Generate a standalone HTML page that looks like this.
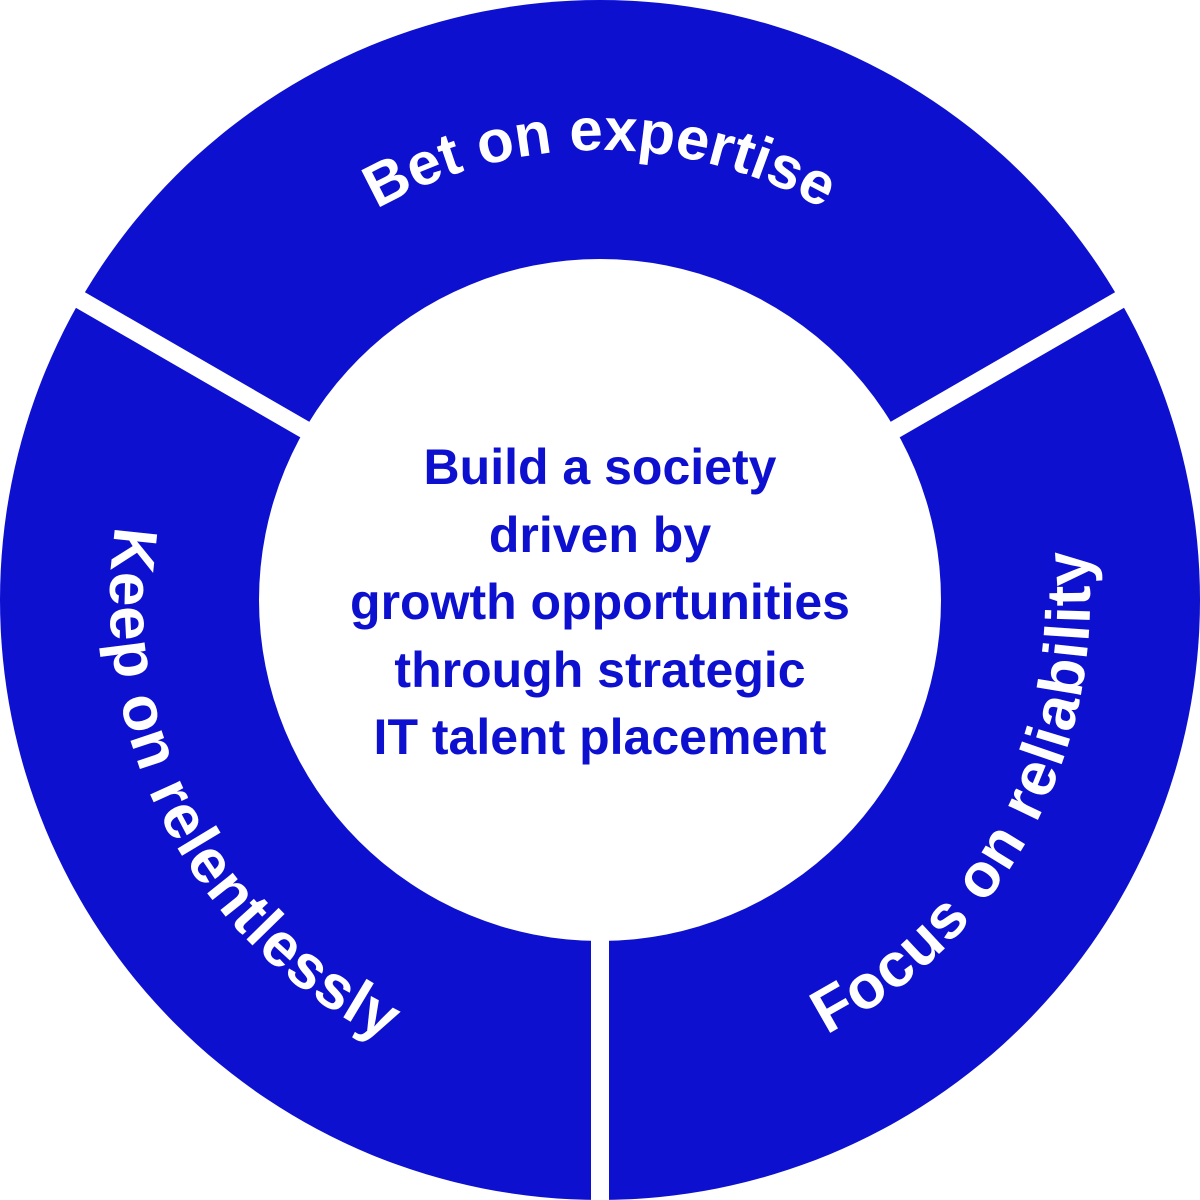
<!DOCTYPE html>
<html><head><meta charset="utf-8"><style>
html,body{margin:0;padding:0;background:#fff;}
svg{display:block;}
</style></head><body>
<svg width="1200" height="1200" viewBox="0 0 1200 1200" xmlns="http://www.w3.org/2000/svg">
<defs>
<path id="topArc" d="M 210.3 375 A 450 450 0 0 1 989.7 375" fill="none"/>
<path id="left" d="M 126.7 473.2 A 490 490 0 0 0 473.2 1073.3" fill="none"/>
<path id="right" d="M 807.1 1044.1 A 490 490 0 0 0 1088.1 557.3" fill="none"/>
</defs>
<circle cx="600" cy="600" r="600" fill="#0D10CF"/>
<line x1="600" y1="600" x2="600" y2="1210" stroke="#fff" stroke-width="18"/>
<line x1="600" y1="600" x2="-20" y2="242" stroke="#fff" stroke-width="18"/>
<line x1="600" y1="600" x2="1220" y2="242" stroke="#fff" stroke-width="18"/>
<circle cx="600" cy="600" r="341" fill="#fff"/>
<g font-family="Liberation Sans, sans-serif" font-weight="bold" fill="#fff" font-size="60">
<text><textPath href="#topArc" startOffset="50%" text-anchor="middle">Bet on expertise</textPath></text>
<text font-size="62" letter-spacing="1"><textPath href="#left" startOffset="47.5%" text-anchor="middle">Keep on relentlessly</textPath></text>
<text font-size="62" letter-spacing="1"><textPath href="#right" startOffset="52.5%" text-anchor="middle">Focus on reliability</textPath></text>
</g>
<g font-family="Liberation Sans, sans-serif" font-weight="bold" fill="#0D10CF" font-size="50" text-anchor="middle">
<text x="600" y="484">Build a society</text>
<text x="600" y="552">driven by</text>
<text x="600" y="619">growth opportunities</text>
<text x="600" y="687">through strategic</text>
<text x="600" y="754">IT talent placement</text>
</g>
</svg>
</body></html>
